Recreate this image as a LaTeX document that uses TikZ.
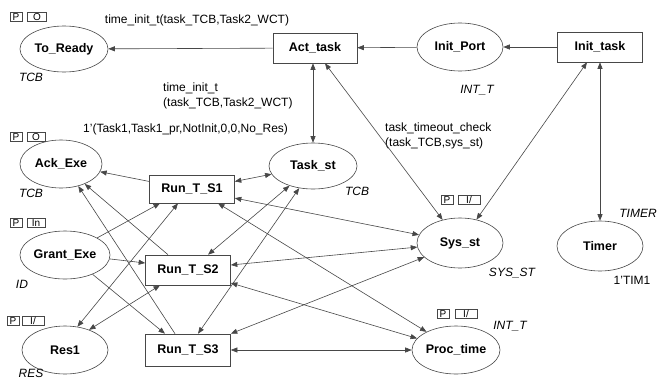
\documentclass[tikz,border=0pt]{standalone}
\usepackage{fontspec}
\setmainfont{Liberation Sans}
\usetikzlibrary{arrows.meta,shapes.geometric}
\tikzset{
  ink/.style={draw=black!72, line width=0.6pt},
  place/.style={ink, ellipse, inner sep=0pt, minimum width=86pt, minimum height=48pt,
    font=\bfseries\fontsize{12.5}{14}\selectfont},
  trans/.style={ink, rectangle, inner sep=0pt, minimum width=85pt, minimum height=30pt,
    font=\bfseries\fontsize{12.5}{14}\selectfont},
  tag/.style={ink, line width=0.5pt, rectangle, inner sep=0pt, minimum height=9pt, minimum width=12pt,
    font=\fontsize{10}{10}\selectfont},
  colset/.style={font=\itshape\fontsize{12}{14}\selectfont, inner sep=0pt},
  inscr/.style={font=\fontsize{12}{14.5}\selectfont, inner sep=0pt, align=left},
  tip/.tip={Triangle[length=6.5pt,width=5pt]},
  arc/.style={ink, -tip},
  biarc/.style={ink, tip-tip}
}
\begin{document}
\begin{tikzpicture}[x=1pt,y=-1pt]
\useasboundingbox (0,0) rectangle (658,380);
\fill[white] (0,0) rectangle (658,380);

% places
\node[place, minimum width=88pt, minimum height=46pt] (toready) at (64,49) {To\_Ready};
\node[place] (initport) at (460,47) {Init\_Port};
\node[place, minimum width=82pt] (ackexe) at (61,164) {Ack\_Exe};
\node[place, minimum width=88pt, minimum height=46pt] (taskst) at (313,166) {Task\_st};
\node[place, minimum width=90pt] (grantexe) at (65,255) {Grant\_Exe};
\node[place, minimum height=50pt] (sysst) at (460,243) {Sys\_st};
\node[place, minimum height=50pt] (timer) at (600,246) {Timer};
\node[place] (res1) at (65,350) {Res1};
\node[place, minimum width=88pt] (proctime) at (456,350) {Proc\_time};

% transitions
\node[trans, minimum width=84pt] (acttask) at (315,48) {Act\_task};
\node[trans] (inittask) at (600,47) {Init\_task};
\node[trans, minimum height=28pt] (rts1) at (192,189) {Run\_T\_S1};
\node[trans] (rts2) at (188,270) {Run\_T\_S2};
\node[trans, minimum height=32pt] (rts3) at (188,350) {Run\_T\_S3};

% port tags
\node[tag] (tgTrP) at (16,17) {P};
\node[tag, minimum width=19pt] (tgTrO) at (37,17) {O};
\node[tag] (tgAkP) at (16,137) {P};
\node[tag, minimum width=18pt] (tgAkO) at (36,137) {O};
\node[tag] (tgGrP) at (16,223) {P};
\node[tag, minimum width=18pt] (tgGrI) at (36,223) {In};
\node[tag] (tgRsP) at (13,321) {P};
\node[tag, minimum width=22pt] (tgRsI) at (33,321) {I/};
\node[tag] (tgSyP) at (447,200) {P};
\node[tag, minimum width=22pt] (tgSyI) at (469,200) {I/};
\node[tag] (tgPtP) at (443,314) {P};
\node[tag, minimum width=22pt] (tgPtI) at (466,314) {I/};

% colour sets and initial markings
\node[colset] (csTr) at (31,77) {TCB};
\node[colset] (csIp) at (477,90) {INT\_T};
\node[colset] (csAk) at (31,193) {TCB};
\node[colset] (csTs) at (357,191) {TCB};
\node[colset] (csGr) at (22,284) {ID};
\node[colset] (csRs) at (31,373) {RES};
\node[colset] (csSy) at (512,273) {SYS\_ST};
\node[colset] (csPt) at (510,326) {INT\_T};
\node[colset] (csTm) at (638,213) {TIMER};
\node[inscr] (imTm) at (632,280) {1'TIM1};

% arc inscriptions
\node[inscr] (inA) at (197,20) {time\_init\_t(task\_TCB,Task2\_WCT)};
\node[inscr, anchor=north west] (inB) at (163,83) {time\_init\_t\\(task\_TCB,Task2\_WCT)};
\node[inscr, anchor=west] (inC) at (83,129) {1'(Task1,Task1\_pr,NotInit,0,0,No\_Res)};
\node[inscr, anchor=north west] (inD) at (385,123) {task\_timeout\_check\\(task\_TCB,sys\_st)};

% top row
\draw[arc] (acttask) -- (toready);
\draw[arc] (initport) -- (acttask);
\draw[arc] (inittask) -- (initport);
\draw[biarc] (taskst.north |- acttask.south) -- (taskst.north);
\draw[biarc] ([xshift=10pt]acttask.south) -- (sysst);
\draw[biarc] ([xshift=-13pt]inittask.south) -- (sysst);
\draw[biarc] (inittask) -- (timer);

% Run_T_S1
\draw[arc] (rts1.170) -- (ackexe);
\draw[biarc] (rts1.10) -- (taskst);
\draw[biarc] (rts1.-12) -- (sysst);
\draw[biarc] ([xshift=26pt]rts1.south) -- (proctime);
\draw[arc] (grantexe.28) -- ([xshift=-32pt]rts1.south);
\draw[biarc] ([xshift=-14pt]rts1.south) -- (res1.62);

% Run_T_S2
\draw[arc] (grantexe.-5) -- ([yshift=7pt]rts2.west);
\draw[arc] ([xshift=-20pt]rts2.north) -- (ackexe.-40);
\draw[biarc] ([xshift=-28pt]rts2.south) -- (res1.40);
\draw[biarc] ([xshift=20pt]rts2.north) -- (taskst.220);
\draw[biarc] ([yshift=5pt]rts2.east) -- (sysst);
\draw[biarc] ([yshift=-13pt]rts2.east) -- (proctime);

% Run_T_S3
\draw[arc] (grantexe.-35) -- ([xshift=-23pt]rts3.north);
\draw[arc] ([xshift=-13pt]rts3.north) -- (ackexe.-52);
\draw[biarc] ([xshift=10pt]rts3.north) -- (taskst.238);
\draw[biarc] (rts3.north east) -- (sysst);
\draw[biarc] (rts3) -- (proctime);
\end{tikzpicture}
\end{document}
